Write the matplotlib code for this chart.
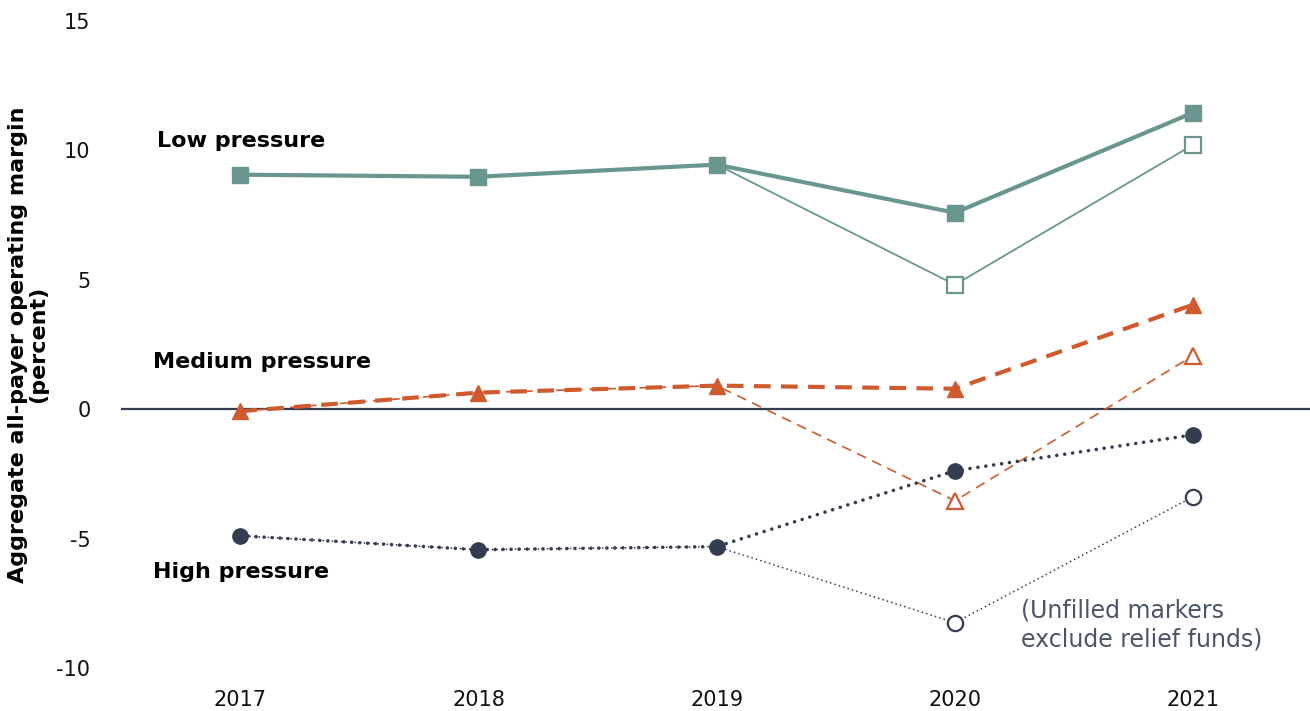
import matplotlib
matplotlib.use("Agg")
import matplotlib.pyplot as plt

plt.rcParams['font.family'] = ['DejaVu Sans']

years = ["2017", "2018", "2019", "2020", "2021"]

low_with_relief = [9.06, 8.98, 9.45, 7.59, 11.46]
low_without_relief = [9.06, 8.98, 9.45, 4.81, 10.22]
medium_with_relief = [-0.08, 0.64, 0.91, 0.79, 4.04]
medium_without_relief = [-0.08, 0.64, 0.91, -3.54, 2.07]
high_with_relief = [-4.89, -5.43, -5.31, -2.38, -0.99]
high_without_relief = [-4.89, -5.43, -5.31, -8.25, -3.38]

y_ticks = [-10, -5, 0, 5, 10, 15]

TEAL = "#6a9690"
ORANGE = "#cf5a2e"
NAVY = "#343d4f"
NOTE = "#4a5568"

fig = plt.figure(figsize=(13.10, 7.11), dpi=100)
ax = fig.add_axes([0.0924, 0.0605, 0.9076, 0.91])

x = list(range(len(years)))
no_relief_marks = [3, 4]

ax.axhline(0, color=NAVY, lw=1.6, zorder=1)

# Margins excluding relief funds: thin lines, unfilled markers
ax.plot(x, low_without_relief, color=TEAL, lw=1.3, marker="s", ms=11,
        mfc="white", mec=TEAL, mew=1.6, markevery=no_relief_marks, zorder=2)
ax.plot(x, medium_without_relief, color=ORANGE, lw=1.2, ls=(0, (6, 4)),
        marker="^", ms=11, mfc="white", mec=ORANGE, mew=1.6,
        markevery=no_relief_marks, zorder=2)
ax.plot(x, high_without_relief, color=NAVY, lw=1.1, ls=(0, (1, 2)),
        marker="o", ms=11, mfc="white", mec=NAVY, mew=1.6,
        markevery=no_relief_marks, zorder=2)

# Margins including relief funds: thick lines, filled markers
ax.plot(x, low_with_relief, color=TEAL, lw=3.0, marker="s", ms=11,
        mfc=TEAL, mec=TEAL, zorder=3)
ax.plot(x, medium_with_relief, color=ORANGE, lw=3.0, ls=(0, (4, 2.5)),
        marker="^", ms=11, mfc=ORANGE, mec=ORANGE, zorder=3)
ax.plot(x, high_with_relief, color=NAVY, lw=2.6, ls=(0, (0.01, 2.2)),
        dash_capstyle="round", marker="o", ms=11, mfc=NAVY, mec=NAVY, zorder=3)

ax.set_xlim(-0.5, 4.49)
ax.set_ylim(-10, 15)
ax.set_xticks(x)
ax.set_xticklabels(years)
ax.set_yticks(y_ticks)
ax.set_yticklabels([str(v) for v in y_ticks])
ax.tick_params(axis="both", length=0, labelsize=15, colors="#111111")
ax.tick_params(axis="x", pad=16)
ax.tick_params(axis="y", pad=22)
for s in ax.spines.values():
    s.set_visible(False)

ax.set_ylabel("Aggregate all-payer operating margin\n(percent)",
              fontsize=16, fontweight="bold", linespacing=1.0, labelpad=6)

ax.text(-0.35, 10.37, "Low pressure", fontsize=16, fontweight="bold",
        va="center", ha="left", color="#000000")
ax.text(-0.365, 1.84, "Medium pressure", fontsize=16, fontweight="bold",
        va="center", ha="left", color="#000000")
ax.text(-0.365, -6.28, "High pressure", fontsize=16, fontweight="bold",
        va="center", ha="left", color="#000000")
ax.text(3.279, -8.33, "(Unfilled markers\nexclude relief funds)", fontsize=17,
        va="center", ha="left", color=NOTE, linespacing=1.25)

fig.savefig("out.png", dpi=100)
